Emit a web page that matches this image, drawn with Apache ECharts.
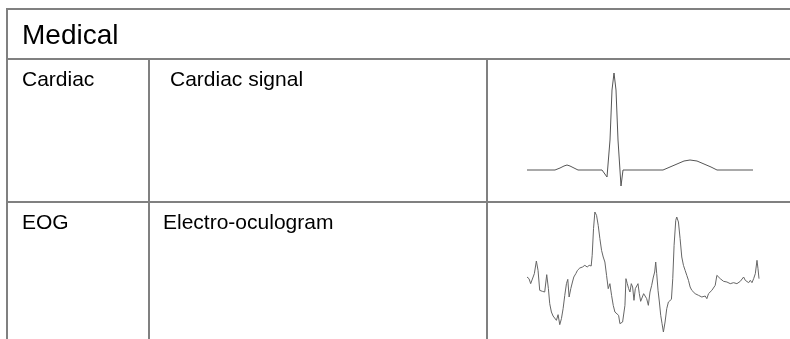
<!DOCTYPE html>
<html>
<head>
<meta charset="utf-8">
<script src="https://cdn.jsdelivr.net/npm/echarts@6/dist/echarts.min.js"></script>
<style>
  html, body { margin: 0; padding: 0; background: #fff; }
  #chart { width: 790px; height: 339px; }
</style>
</head>
<body>
<div id="chart"></div>
<script>
// table text
const SECTION = 'Medical'
const ROW_NAMES = ['Cardiac', 'EOG']
const ROW_DESCRIPTIONS = ['Cardiac signal', 'Electro-oculogram']

// cardiac signal: time (samples) and amplitude (arbitrary units)
const ecgTime = [0, 28, 33, 37, 40, 43, 47, 51, 75, 80, 83, 85, 87, 89, 91, 94, 96, 136, 143, 150, 157, 163, 170, 177, 184, 190, 226]
const ecgValue = [0, 0, 2, 4, 5, 4, 2, 0, 0, -7, 30, 80, 97, 80, 30, -16, 0, 0, 3, 6, 9, 10, 9, 6, 3, 0, 0]

// electro-oculogram: time (samples) and amplitude (arbitrary units)
const eogTime = [0, 6, 11, 16, 22, 28, 33, 38, 46, 53, 59, 64, 68, 73, 78, 83, 88, 93, 98, 103, 108, 113, 118, 122, 126, 131, 136, 140, 146, 151, 158, 166, 173, 180, 186, 192, 195, 199, 203, 208, 213, 218, 223, 228, 233, 238, 243, 248, 253, 258, 263, 268, 274, 278, 286, 290, 293, 296, 300, 304, 308, 312, 316, 320, 324, 328, 332, 336, 340, 345, 349, 353, 358, 363, 368, 373, 378, 382, 385, 388, 392, 396, 400, 404, 408, 413, 418, 423, 428, 432, 436, 440, 445, 448, 453, 458, 463, 468, 473, 478, 483, 488, 493, 498, 503, 508, 513, 518, 523, 528, 533, 538, 543, 548, 553, 558, 563, 568, 573, 578, 583, 588, 593, 598, 603, 608, 613, 618, 623, 628, 633, 638, 643, 648, 653, 658, 663, 668, 673, 678, 683, 688, 691, 694]
const eogValue = [55, 50, 35, 38, 65, 103, 75, 15, 12, 10, 62, 20, -25, -50, -62, -65, -75, -58, -88, -70, -40, 0, 35, 48, -5, 20, 40, 55, 65, 75, 82, 85, 90, 85, 90, 88, 120, 200, 250, 240, 210, 170, 135, 115, 100, 60, 20, 35, 0, -30, -50, -55, -60, -85, -80, -75, -30, 50, 35, 20, 10, 35, 25, -15, 20, 25, 35, 5, -18, -5, 5, 10, -10, -30, 10, 30, 55, 70, 100, 65, 15, -20, -60, -85, -110, -80, -40, -20, -18, -12, 50, 150, 225, 235, 220, 170, 115, 90, 75, 60, 45, 25, 15, 10, 5, 2, 0, -2, -5, 0, -2, -10, 5, 0, 15, 20, 30, 60, 55, 50, 45, 42, 38, 40, 35, 35, 32, 38, 32, 35, 38, 42, 40, 55, 45, 45, 38, 45, 38, 50, 65, 105, 80, 50]

const FONT = '"Liberation Sans", Arial, sans-serif'
const RULE = '#808080'

function pairs(xs, ys) {
  return xs.map((x, i) => [x, ys[i]])
}

function hline(x1, x2, y) {
  return { type: 'line', shape: { x1, y1: y, x2, y2: y }, style: { stroke: RULE, lineWidth: 2 }, silent: true }
}

function vline(x, y1, y2) {
  return { type: 'line', shape: { x1: x, y1, x2: x, y2 }, style: { stroke: RULE, lineWidth: 2 }, silent: true }
}

function label(text, x, y, size) {
  return {
    type: 'text',
    x,
    y,
    style: { text, fill: '#000', font: `${size}px ${FONT}`, verticalAlign: 'middle', align: 'left' },
    silent: true,
  }
}

function hiddenAxis() {
  return {
    axisLine: { show: false },
    axisTick: { show: false },
    axisLabel: { show: false },
    splitLine: { show: false },
  }
}

function buildOption() {
  return {
    animation: false,
    backgroundColor: '#fff',
    grid: [
      { left: 527, right: 37, top: 73, bottom: 153 },
      { left: 527, right: 31, top: 212, bottom: 7 },
    ],
    xAxis: [
      { type: 'value', gridIndex: 0, min: 0, max: 226, ...hiddenAxis() },
      { type: 'value', gridIndex: 1, min: 0, max: 694, ...hiddenAxis() },
    ],
    yAxis: [
      { type: 'value', gridIndex: 0, min: -16, max: 97, ...hiddenAxis() },
      { type: 'value', gridIndex: 1, min: -110, max: 250, ...hiddenAxis() },
    ],
    series: [
      {
        type: 'line',
        xAxisIndex: 0,
        yAxisIndex: 0,
        data: pairs(ecgTime, ecgValue),
        showSymbol: false,
        lineStyle: { color: '#555', width: 1 },
      },
      {
        type: 'line',
        xAxisIndex: 1,
        yAxisIndex: 1,
        data: pairs(eogTime, eogValue),
        showSymbol: false,
        lineStyle: { color: '#666', width: 1 },
      },
    ],
    graphic: [
      hline(6, 790, 9),
      vline(7, 8, 339),
      hline(7, 790, 59),
      vline(149, 59, 339),
      vline(487, 59, 339),
      hline(7, 790, 202),
      label(SECTION, 22, 36, 28),
      label(ROW_NAMES[0], 22, 80, 21),
      label(ROW_DESCRIPTIONS[0], 170, 80, 21),
      label(ROW_NAMES[1], 22, 223, 21),
      label(ROW_DESCRIPTIONS[1], 163, 223, 21),
    ],
  }
}

const chart = echarts.init(document.getElementById('chart'), null, { renderer: 'canvas' })
chart.setOption(buildOption())
</script>
</body>
</html>
